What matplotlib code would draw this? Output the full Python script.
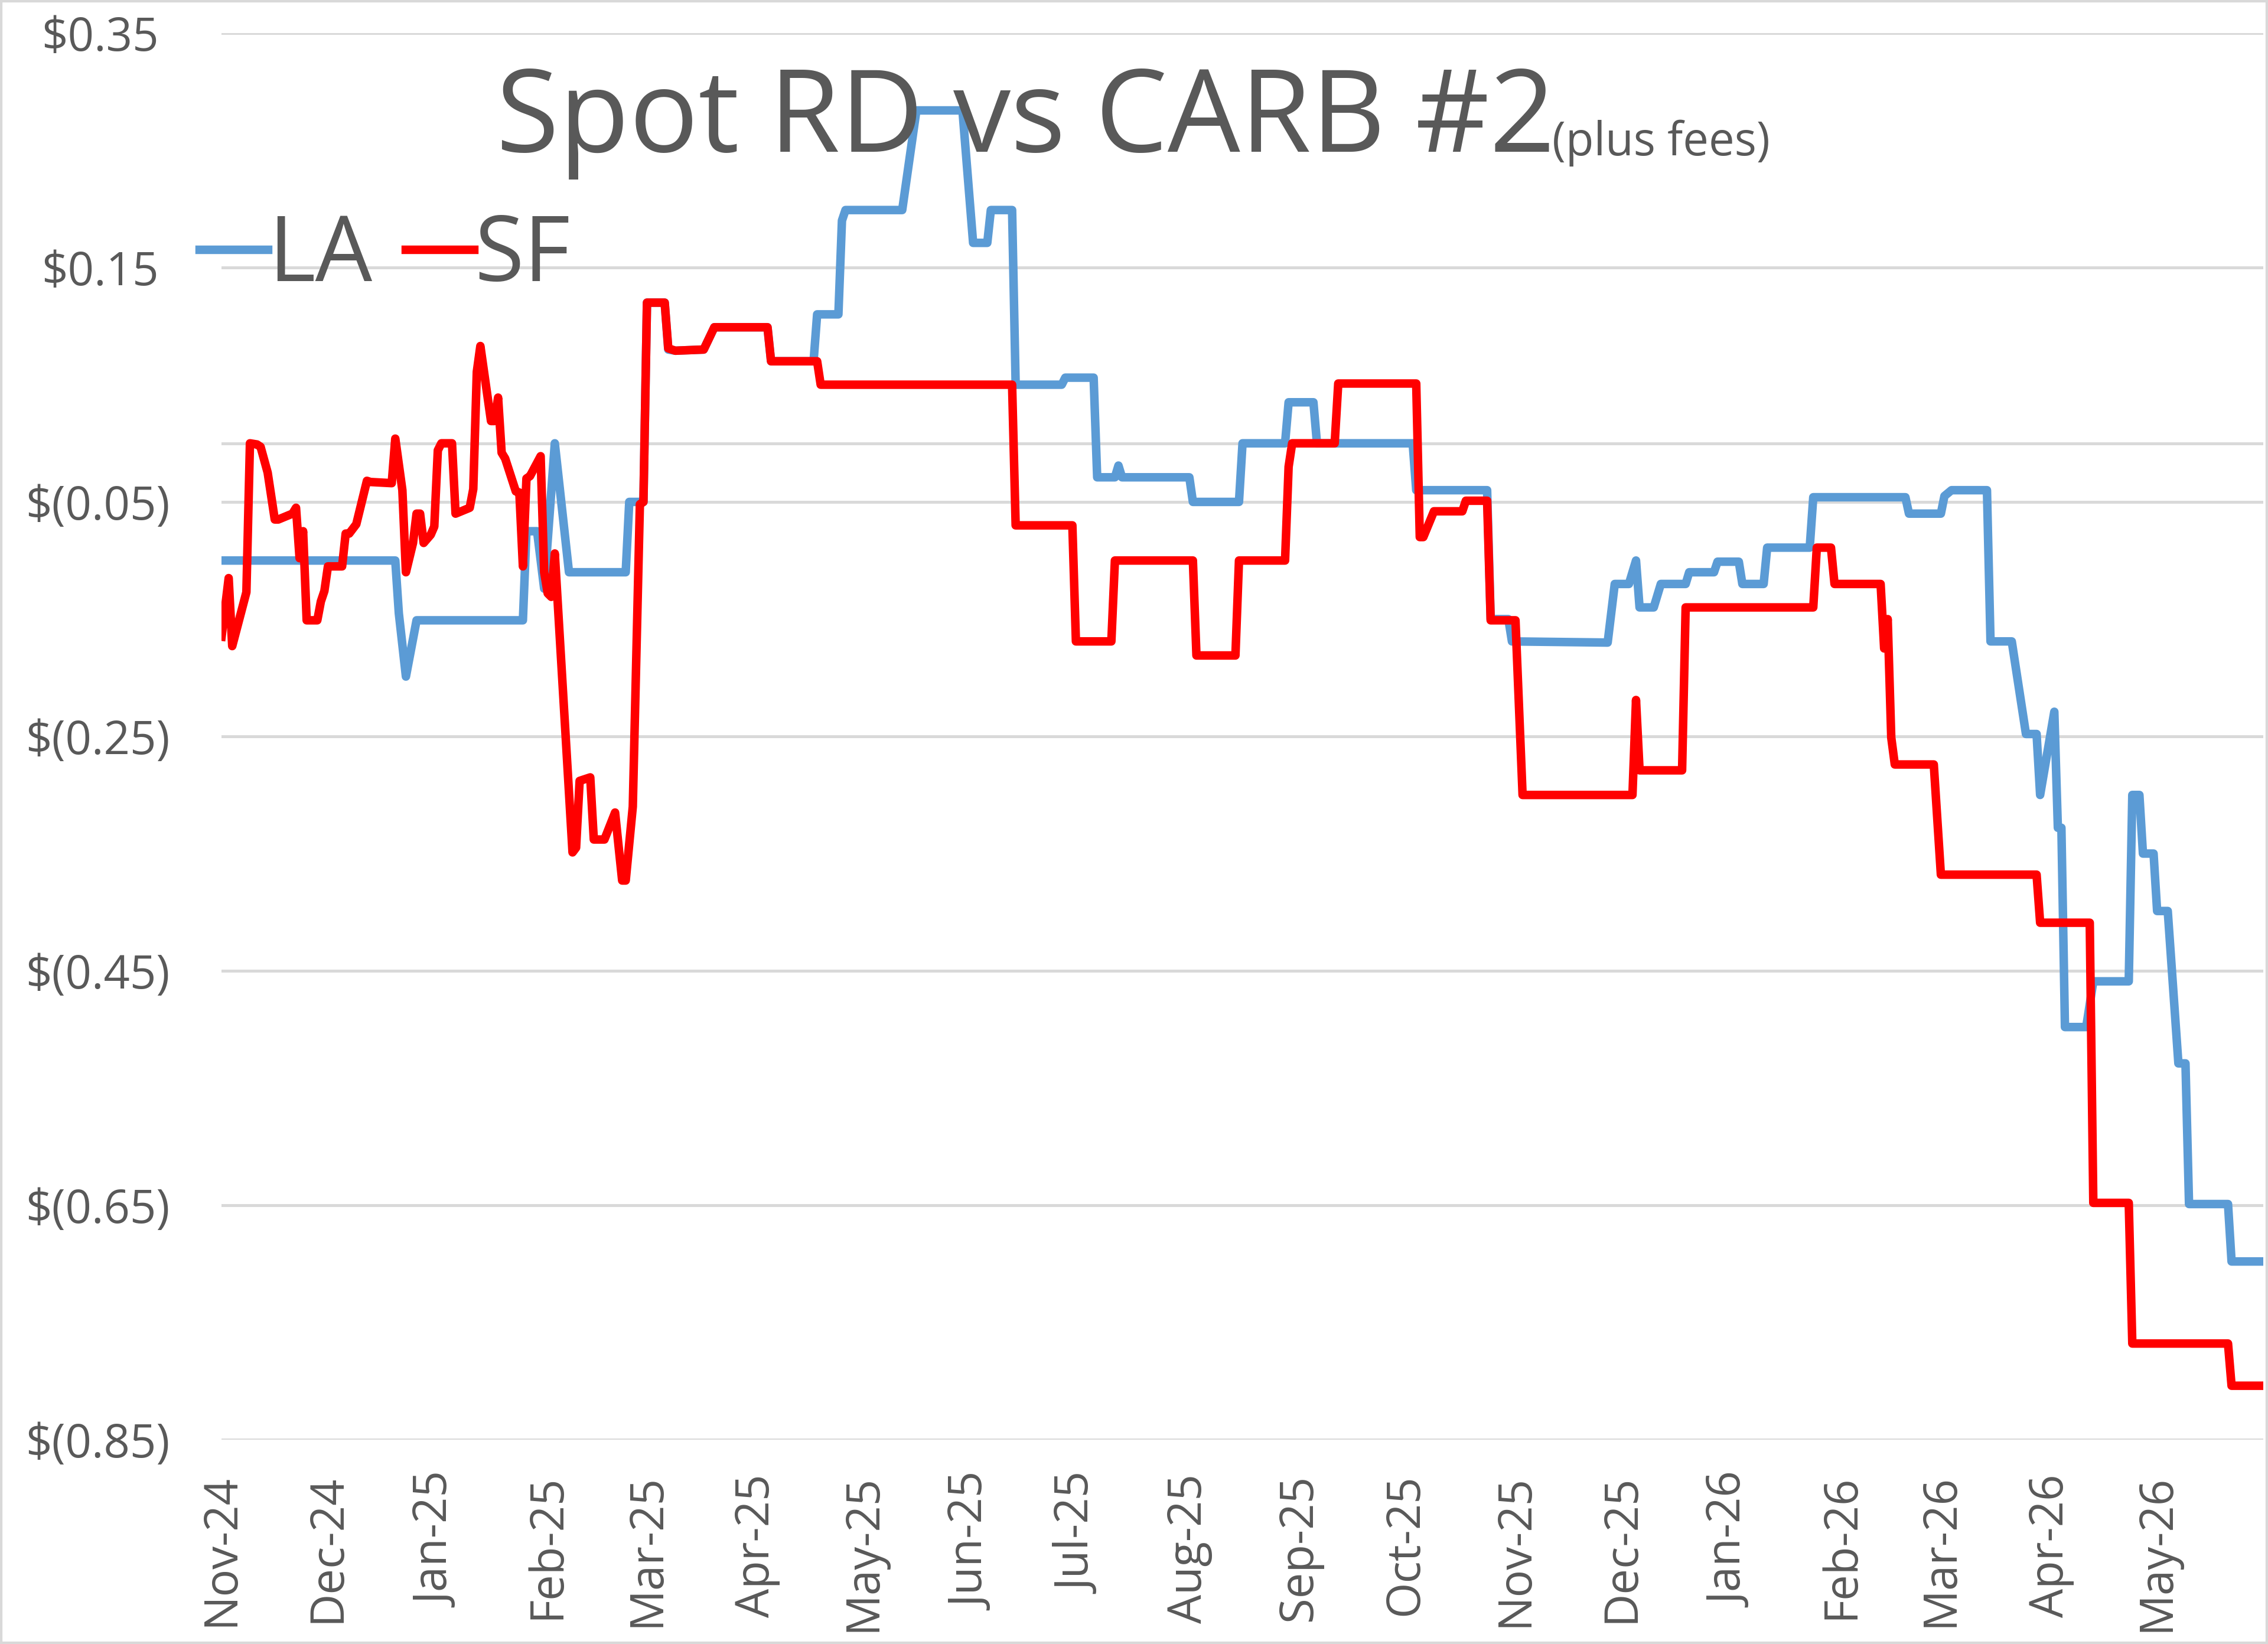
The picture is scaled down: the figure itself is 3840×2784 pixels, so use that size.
import matplotlib
matplotlib.use('Agg')
import matplotlib.pyplot as plt
import matplotlib.dates as mdates
from matplotlib.ticker import FuncFormatter
from matplotlib.transforms import ScaledTranslation
from matplotlib.patches import Rectangle
import numpy as np

plt.rcParams['font.family'] = ['Open Sans', 'DejaVu Sans']

TEXT = '#595959'
GRID = '#D9D9D9'

# x values are days after 1 Nov 2024
START = np.datetime64('2024-11-01')

la_days = [0, 49, 50, 52, 55, 85, 86, 89, 91, 94,
           98, 114, 115, 118, 119, 120, 125, 126, 128, 136,
           139, 154, 155, 167, 168, 174, 175, 176, 192, 196,
           209, 212, 216, 217, 223, 224, 237, 238, 246, 247,
           252, 253, 254, 273, 274, 287, 288, 300, 301, 308,
           309, 336, 337, 357, 358, 363, 364, 391, 393, 397,
           399, 400, 404, 406, 413, 414, 421, 422, 428, 429,
           435, 436, 448, 449, 475, 476, 485, 486, 488, 498,
           499, 505, 509, 512, 513, 517, 518, 519, 520, 526,
           528, 538, 539, 541, 542, 545, 546, 549, 552, 554,
           555, 566, 567, 576]
la_vals = [-0.100, -0.100, -0.145, -0.199, -0.151, -0.151, -0.075, -0.075, -0.124, 0.000,
           -0.110, -0.110, -0.050, -0.050, -0.050, 0.120, 0.120, 0.080, 0.079, 0.080,
           0.099, 0.099, 0.070, 0.070, 0.110, 0.110, 0.190, 0.199, 0.199, 0.284,
           0.284, 0.171, 0.171, 0.199, 0.199, 0.050, 0.050, 0.056, 0.056, -0.029,
           -0.029, -0.019, -0.029, -0.029, -0.050, -0.050, 0.000, 0.000, 0.035, 0.035,
           0.000, 0.000, -0.040, -0.040, -0.150, -0.150, -0.169, -0.170, -0.120, -0.120,
           -0.100, -0.140, -0.140, -0.120, -0.120, -0.110, -0.110, -0.101, -0.101, -0.120,
           -0.120, -0.089, -0.089, -0.046, -0.046, -0.060, -0.060, -0.045, -0.040, -0.040,
           -0.169, -0.169, -0.248, -0.248, -0.300, -0.229, -0.328, -0.328, -0.498, -0.498,
           -0.459, -0.459, -0.300, -0.300, -0.350, -0.350, -0.399, -0.399, -0.529, -0.529,
           -0.649, -0.649, -0.698, -0.698]

sf_days = [0, 1, 2, 3, 7, 8, 10, 11, 13, 15,
           16, 20, 21, 22, 23, 24, 27, 28, 29, 30,
           34, 35, 36, 37, 38, 41, 42, 48, 49, 51,
           52, 54, 55, 56, 57, 59, 60, 61, 62, 65,
           66, 70, 71, 72, 73, 76, 77, 78, 79, 80,
           83, 84, 85, 86, 87, 90, 91, 92, 93, 94,
           99, 100, 101, 104, 105, 108, 111, 113, 114, 116,
           118, 119, 120, 125, 126, 128, 136, 139, 154, 155,
           168, 169, 223, 224, 240, 241, 251, 252, 274, 275,
           286, 287, 300, 301, 302, 314, 315, 337, 338, 339,
           342, 350, 351, 357, 358, 365, 367, 398, 399, 400,
           412, 413, 449, 450, 454, 455, 468, 469, 470, 471,
           472, 483, 485, 512, 513, 527, 528, 538, 539, 566,
           567, 576]
sf_vals = [-0.165, -0.140, -0.115, -0.173, -0.127, 0.000, -0.001, -0.003, -0.025, -0.065,
           -0.065, -0.060, -0.055, -0.098, -0.075, -0.151, -0.151, -0.135, -0.126, -0.105,
           -0.105, -0.077, -0.077, -0.073, -0.069, -0.032, -0.033, -0.034, 0.004, -0.040,
           -0.110, -0.085, -0.060, -0.060, -0.085, -0.078, -0.071, -0.006, 0.000, 0.000,
           -0.060, -0.055, -0.039, 0.061, 0.083, 0.019, 0.019, 0.039, -0.008, -0.013,
           -0.041, -0.042, -0.105, -0.030, -0.028, -0.011, -0.110, -0.128, -0.131, -0.094,
           -0.349, -0.345, -0.288, -0.285, -0.338, -0.338, -0.315, -0.373, -0.373, -0.310,
           -0.052, -0.050, 0.120, 0.120, 0.081, 0.079, 0.080, 0.099, 0.099, 0.070,
           0.070, 0.050, 0.050, -0.070, -0.070, -0.169, -0.169, -0.100, -0.100, -0.181,
           -0.181, -0.100, -0.100, -0.020, 0.000, 0.000, 0.051, 0.051, -0.080, -0.080,
           -0.058, -0.058, -0.049, -0.049, -0.151, -0.151, -0.300, -0.300, -0.219, -0.279,
           -0.279, -0.140, -0.140, -0.089, -0.089, -0.120, -0.120, -0.175, -0.150, -0.251,
           -0.274, -0.274, -0.368, -0.368, -0.409, -0.409, -0.648, -0.648, -0.768, -0.768,
           -0.804, -0.804]

y_ticks = [-0.85, -0.65, -0.45, -0.25, -0.05, 0.15, 0.35]

la_dates = START + np.array(la_days).astype('timedelta64[D]')
sf_dates = START + np.array(sf_days).astype('timedelta64[D]')

fig = plt.figure(figsize=(19.2, 13.92), dpi=200)
ax = fig.add_axes([0.0977, 0.1243, 0.9003, 0.8556])

ax.plot(la_dates, la_vals, color='#5B9BD5', lw=5.2, solid_joinstyle='round', label='LA', zorder=3)
ax.plot(sf_dates, sf_vals, color='#FF0000', lw=5.2, solid_joinstyle='round', label='SF', zorder=4)

ax.set_xlim(START, START + np.timedelta64(576, 'D'))
ax.set_ylim(-0.85, 0.35)

# horizontal category axis crosses at zero
ax.axhline(0, color=GRID, lw=1.8, zorder=1)

for s in ax.spines.values():
    s.set_visible(False)

ax.set_yticks(y_ticks)
ax.yaxis.set_major_formatter(FuncFormatter(
    lambda v, p: f'$({abs(v):.2f})' if v < 0 else f'${v:.2f}'))
ax.yaxis.grid(True, color=GRID, lw=1.8, zorder=0)
ax.tick_params(axis='y', length=0, pad=31.5, labelsize=28, labelcolor=TEXT)

ax.xaxis.set_major_locator(mdates.MonthLocator())
ax.xaxis.set_major_formatter(mdates.DateFormatter('%b-%y'))
ax.tick_params(axis='x', length=0, pad=21, labelsize=28, labelcolor=TEXT, labelrotation=90)

# accounting format leaves room for the closing parenthesis on positives
shift = ScaledTranslation(-19 / 200, 0, fig.dpi_scale_trans)
for tick, v in zip(ax.yaxis.get_major_ticks(), y_ticks):
    if v >= 0:
        tick.label1.set_transform(tick.label1.get_transform() + shift)

fig.text(840 / 3840, 1 - 257 / 2784, 'Spot RD vs CARB #2', fontsize=70,
         color=TEXT, ha='left', va='baseline')
fig.text(2628 / 3840, 1 - 263 / 2784, '(plus fees)', fontsize=28,
         color=TEXT, ha='left', va='baseline')

ax.legend(loc='center left', bbox_to_anchor=(338 / 3840, 1 - 436 / 2784),
          bbox_transform=fig.transFigure, ncol=2, frameon=False, fontsize=55,
          labelcolor=TEXT, handlelength=0.76, handletextpad=0.0,
          columnspacing=0.37, borderpad=0, borderaxespad=0)

fig.add_artist(Rectangle((0, 0), 1, 1, transform=fig.transFigure, fill=False,
                         ec=GRID, lw=3))

fig.savefig('out.png', dpi=200)
